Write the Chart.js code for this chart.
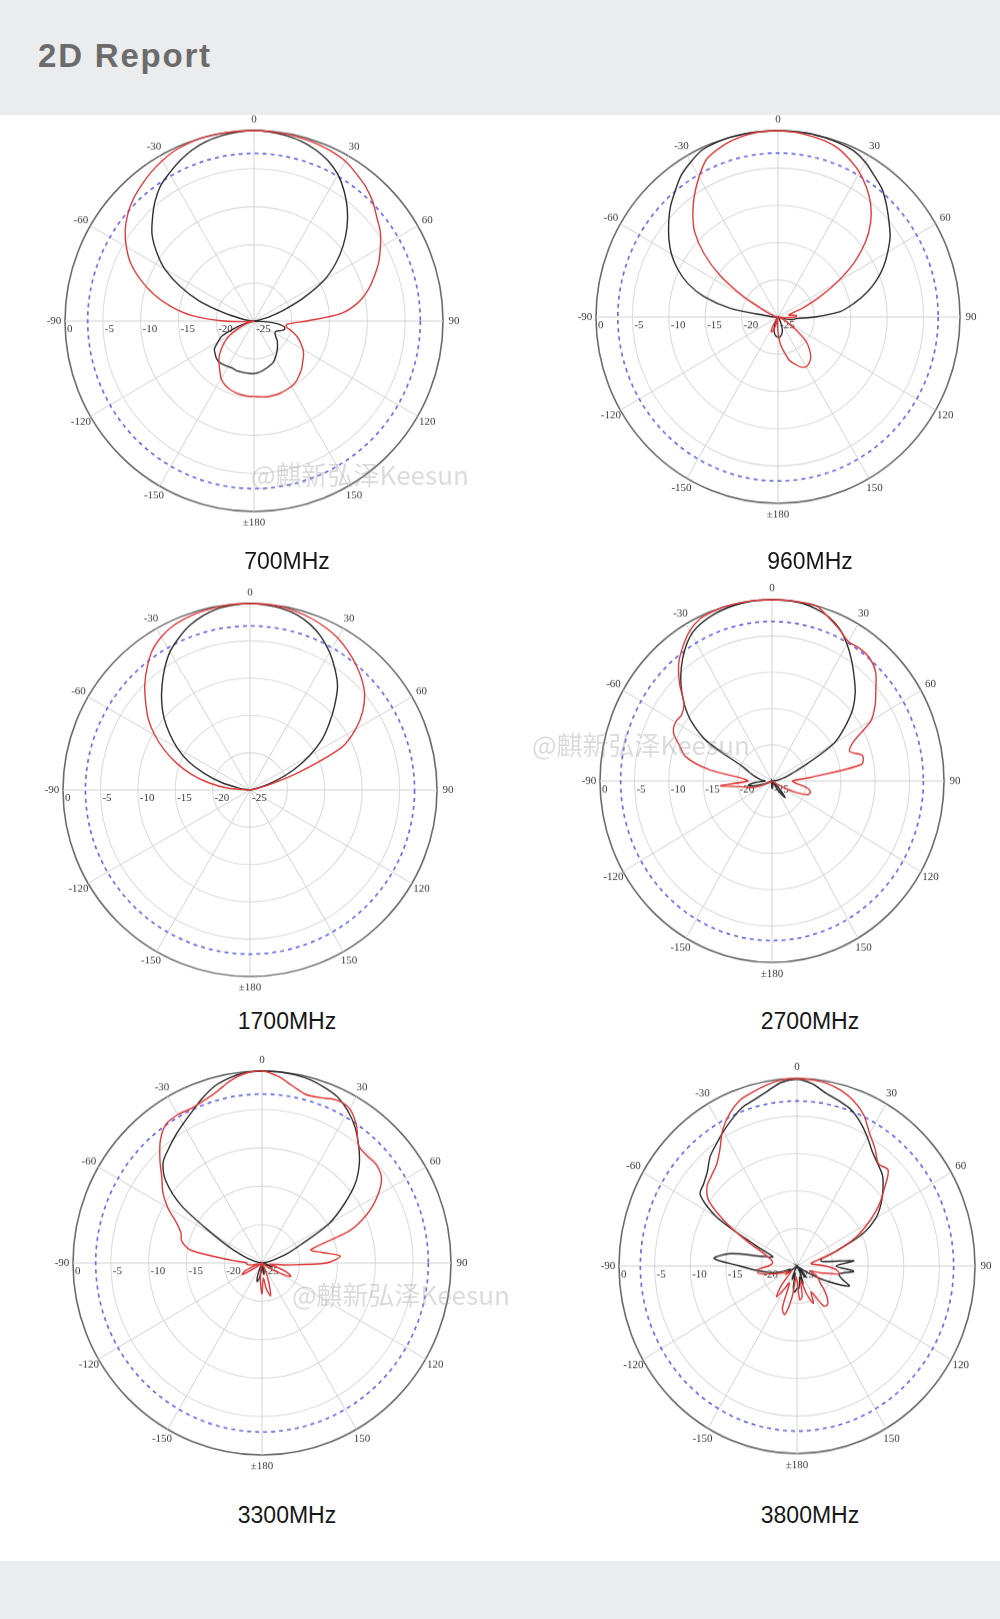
<!DOCTYPE html>
<html>
<head>
<meta charset="utf-8">
<script src="https://cdn.jsdelivr.net/npm/chart.js@4.4.1/dist/chart.umd.min.js"></script>
<style>
html,body{margin:0;padding:0;}
body{width:1000px;height:1619px;position:relative;background:#fff;overflow:hidden;font-family:"Liberation Sans",Arial,sans-serif;}
.band{position:absolute;left:0;width:1000px;background:#ebeced;}
#hdr{top:0;height:115px;}
#ftr{top:1561px;height:58px;}
#title{position:absolute;left:38px;top:39px;font-size:33px;line-height:33px;font-weight:bold;color:#6b6b6b;letter-spacing:1.8px;white-space:nowrap;}
.cap{position:absolute;width:300px;text-align:center;font-size:23px;line-height:23px;color:#161616;white-space:nowrap;}
.plot{position:absolute;transform-origin:50% 50%;}
.plot canvas{display:block;}
.wm{position:absolute;font-family:"Noto Sans CJK SC","Noto Sans",sans-serif;font-size:26px;line-height:26px;color:rgba(160,160,160,0.38);white-space:nowrap;z-index:5;}
</style>
</head>
<body>
<div class="band" id="hdr"></div>
<div id="title">2D Report</div>

<div class="plot"><canvas id="c700"></canvas></div>
<div class="plot"><canvas id="c960"></canvas></div>
<div class="plot"><canvas id="c1700"></canvas></div>
<div class="plot"><canvas id="c2700"></canvas></div>
<div class="plot"><canvas id="c3300"></canvas></div>
<div class="plot"><canvas id="c3800"></canvas></div>

<div class="cap" style="left:137px;top:550px;">700MHz</div>
<div class="cap" style="left:660px;top:550px;">960MHz</div>
<div class="cap" style="left:137px;top:1010px;">1700MHz</div>
<div class="cap" style="left:660px;top:1010px;">2700MHz</div>
<div class="cap" style="left:137px;top:1504px;">3300MHz</div>
<div class="cap" style="left:660px;top:1504px;">3800MHz</div>

<div class="wm" style="left:251px;top:461px;">@麒新弘泽Keesun</div>
<div class="wm" style="left:532px;top:731px;">@麒新弘泽Keesun</div>
<div class="wm" style="left:292px;top:1281px;">@麒新弘泽Keesun</div>

<div class="band" id="ftr"></div>

<script>
// ---- categories: azimuth in degrees, 5 degree steps, clockwise from top ----
const angles = Array.from({length: 72}, (_, i) => i * 5);

// ---- tick labels ----
const angleTickAngles = [0, 30, 60, 90, 120, 150, 180, 210, 240, 270, 300, 330];
const angleTickText = ['0', '30', '60', '90', '120', '150', '±180', '-150', '-120', '-90', '-60', '-30'];
const radialTicks = [0, -5, -10, -15, -20, -25];
const refLevel = -3;

// ---- series values (dB), index k = angle 5k (0..180, then -175..-5) ----
const black700 = [0,-0.1,-0.3,-0.6,-1.1,-1.8,-2.8,-4.2,-5.8,-7.6,-9.6,-11.8,-14.3,-17.7,-20.8,-23,-24.5,-25,-25,-22.5,-21,-20.8,-21.3,-21.8,-21.8,-21.5,-21,-20.6,-20.2,-19.8,-19.4,-19,-18.8,-18.6,-18.4,-18.2,-18.1,
  -18.1,-18.1,-18.1,-18.1,-18.2,-18.1,-18,-17.9,-18,-18.3,-18.6,-19.5,-20.3,-22.5,-24,-25,-25,-25,-24.5,-23.3,-20.9,-17.3,-14.2,-11.4,-9.3,-7.4,-6,-4.6,-3.4,-2.6,-1.8,-1.1,-0.6,-0.3,-0.1];
const red700 = [0,-0.05,-0.1,-0.2,-0.3,-0.5,-0.8,-1.4,-2,-2.8,-3.8,-4.6,-5.7,-6.8,-8.1,-9.4,-11,-13.4,-18,-20.5,-20.7,-19.8,-18.9,-18.2,-17.5,-17,-16.6,-16.1,-15.7,-15.3,-15.1,-15,-14.9,-14.9,-14.9,-15,-15.1,
  -15.1,-15.2,-15.3,-15.5,-15.8,-16.3,-17.1,-17.8,-18.5,-19.4,-20.3,-21.4,-22.7,-23.7,-24.5,-25,-24,-21,-16.8,-13.8,-11.2,-9,-7,-5.5,-4.2,-3.2,-2.4,-1.8,-1.2,-0.7,-0.3,-0.1,0,0,0];

const black960 = [0,0,0,-0.1,-0.2,-0.4,-1,-1.9,-2.7,-3.9,-5.1,-6.2,-7.6,-9,-10.6,-12.4,-14.4,-16.4,-20,-22.5,-23,-24,-25,-25,-25,-25,-25,-25,-25,-25,-24.5,-24,-23.3,-22.8,-22.5,-22.3,-22.3,
  -22.4,-22.6,-23,-23.5,-24,-24.5,-25,-25,-25,-25,-25,-25,-25,-25,-25,-25,-24.8,-24.5,-23.8,-18.4,-14.5,-11.8,-9.8,-8.1,-6.7,-5.4,-4.1,-3,-1.8,-1,-0.3,-0.1,0,0,0];
const red960 = [0,-0.1,-0.3,-0.5,-0.9,-1.7,-2.6,-3.8,-5.2,-7,-9.3,-12.2,-15.6,-18.8,-21.3,-23,-23.5,-22.5,-22.5,-24,-25,-25,-24.5,-24,-23.5,-22,-20,-18.9,-18,-17.5,-17.3,-17.6,-18.3,-19,-20.3,-21.4,-23,
  -24.5,-25,-24,-23,-22.8,-23.5,-24.5,-25,-25,-25,-25,-25,-25,-25,-25,-25,-25,-25,-25,-24.5,-24.5,-24,-22.9,-19.6,-15.3,-11.7,-8.8,-6.8,-5,-3.3,-1.7,-1,-0.5,-0.2,0];

const black1700 = [0,-0.1,-0.3,-0.7,-1.4,-2.4,-3.7,-5.2,-6.8,-9,-11.2,-13.3,-15.8,-18.5,-21.3,-23.7,-25,-25,-25,-25,-25,-25,-25,-25,-25,-25,-25,-25,-25,-25,-25,-25,-25,-25,-25,-25,-25,
  -25,-25,-25,-25,-25,-25,-25,-25,-25,-25,-25,-25,-25,-25,-25,-25,-25,-25,-25,-23.5,-21,-18.5,-15.9,-13.8,-11.9,-10,-8.3,-6.7,-5.1,-3.6,-2.5,-1.5,-0.8,-0.3,-0.1];
const red1700 = [0,0,-0.1,-0.3,-0.6,-1,-1.5,-2.2,-3,-3.9,-5,-6.6,-8.7,-11.5,-18,-22.5,-24.5,-25,-25,-25,-25,-25,-25,-25,-25,-25,-25,-25,-25,-25,-25,-25,-25,-25,-25,-25,-25,
  -25,-25,-25,-25,-25,-25,-25,-25,-25,-25,-25,-25,-25,-25,-25,-25,-25,-24.5,-22,-19.4,-16.9,-14.6,-12.4,-10.3,-8.4,-6.8,-5.1,-3.6,-2.2,-1.3,-0.7,-0.4,-0.2,-0.1,0];

const black2700 = [0,0,-0.1,-0.4,-0.9,-1.8,-3.2,-4.8,-6.4,-7.9,-9.7,-12.1,-14.6,-19.3,-21.8,-23,-24,-24.5,-25,-25,-25,-25,-25,-25,-25,-25,-24.5,-23.5,-22,-23.5,-25,-25,-25,-25,-24.5,-24,-24,
  -24.5,-25,-25,-25,-25,-25,-25,-25,-25,-25,-25,-25,-25,-24,-22.5,-21.5,-22.5,-24,-23.5,-23,-22.3,-21.5,-20.3,-14.2,-10.7,-8.3,-6.3,-4.5,-2.9,-1.6,-0.9,-0.5,-0.25,-0.1,0];
const red2700 = [0,0,0,0,-1,-1.9,-2.8,-2.7,-2.9,-3.7,-5.3,-6.7,-8.4,-11.8,-13,-11.4,-11.8,-19.5,-22,-21.5,-20,-19.2,-19.5,-21.5,-24,-25,-25,-25,-25,-25,-25,-25,-25,-25,-25,-25,-25,
  -25,-25,-25,-25,-25,-25,-25,-25,-25,-25,-25,-24.5,-24,-22.5,-21.5,-20.5,-17.5,-21.5,-20.6,-15.5,-12,-10.7,-9.2,-8.8,-9,-8.3,-6,-3.9,-2.4,-1.1,-0.3,-0.1,0,0,0];

const black3300 = [0,0,-0.1,-0.3,-0.7,-1.2,-2.2,-3.5,-5.1,-6.8,-8.9,-11.8,-14.8,-19.3,-21.5,-23.3,-24.3,-25,-25,-25,-25,-24.5,-23.5,-24.5,-25,-25,-25,-25,-25,-25,-25,-25,-25,-24,-23.5,-24.5,-25,
  -24,-23,-22.5,-23.5,-25,-25,-25,-25,-25,-25,-25,-25,-25,-25,-25,-25,-25,-25,-25,-24.5,-23.7,-22.5,-20.5,-17.5,-12,-8.4,-6.5,-5.7,-4.9,-4.1,-3.2,-2.1,-1.1,-0.5,-0.1];
const red3300 = [0,-0.6,-1.6,-2.3,-2.1,-1.6,-1.8,-3.2,-5.1,-5.3,-5.2,-5.7,-7.3,-9.5,-12.6,-18.3,-17,-14.6,-16.5,-22,-24,-23,-21.5,-20.8,-22.5,-24,-25,-25,-25,-25,-25,-24,-22.5,-20.6,-21.5,-23,-21,
  -22.5,-24,-25,-25,-25,-25,-25,-25,-25,-25,-24,-22,-22.5,-24,-24.5,-23.5,-23,-23,-21,-15.5,-14,-13.6,-12.5,-10.6,-9,-7.7,-5.9,-4.1,-2.9,-2.7,-2.8,-2.5,-1.9,-0.9,-0.2];

const black3800 = [-0.1,-0.6,-1.6,-2.2,-2.8,-3.9,-5.2,-6.5,-7.3,-8,-9.25,-10.6,-12.2,-14.8,-19,-21.5,-21.5,-17,-19.5,-17,-19,-18.5,-17.2,-20,-23,-25,-25,-24,-23,-24,-25,-24,-22.5,-23.5,-23,-22,-22,
  -21.5,-22,-24,-23,-24,-25,-25,-25,-25,-25,-24,-23.5,-24,-23,-21.5,-20.5,-19,-17,-13.3,-15.5,-20,-21.4,-18.8,-12,-8.4,-7.9,-7.2,-6,-5.2,-4.3,-3.4,-2.5,-2,-1.3,-0.4];
const red3800 = [0,-0.1,-0.3,-0.8,-1.6,-2.8,-4.6,-5.9,-7.2,-6.9,-9,-11,-13.4,-15.8,-19,-22,-23,-22.5,-21,-19.5,-19,-21.5,-23,-22,-21.5,-21,-20,-19,-18.3,-18.5,-21,-19.5,-21,-23,-20.8,-20.5,-23,
  -23.5,-20.5,-18.3,-19,-22.5,-21.5,-20,-21.5,-23.5,-24,-23,-23.5,-23,-22,-21,-19.5,-19.5,-21,-21.5,-21.5,-21,-20,-17.4,-13.6,-9.9,-8.5,-8,-7.4,-6.1,-4.1,-2.6,-1.5,-1,-0.5,-0.1];

// ---- placement of each plot on the page ----
const PAD = 30;
const plots = [
  {id: 'c700',  cx: 253.5, cy: 321,    rx: 188.5, ry: 190.5, red: red700,  black: black700},
  {id: 'c960',  cx: 778.3, cy: 317,    rx: 181.7, ry: 186.3, red: red960,  black: black960},
  {id: 'c1700', cx: 249.5, cy: 789.5,  rx: 187.2, ry: 186.5, red: red1700, black: black1700},
  {id: 'c2700', cx: 771.7, cy: 781.3,  rx: 171.7, ry: 181.3, red: red2700, black: black2700},
  {id: 'c3300', cx: 262,   cy: 1263,   rx: 188.7, ry: 192,   red: red3300, black: black3300},
  {id: 'c3800', cx: 797,   cy: 1265.7, rx: 178,   ry: 187.5, red: red3800, black: black3800}
];

const overlay = {
  id: 'overlay',
  beforeDatasetsDraw(chart) {
    const s = chart.scales.r, ctx = chart.ctx;
    ctx.save();
    // -3 dB reference ring
    ctx.strokeStyle = '#6d6de6';
    ctx.lineWidth = 1.7;
    ctx.setLineDash([4, 4]);
    ctx.beginPath();
    ctx.arc(s.xCenter, s.yCenter, s.getDistanceFromCenterForValue(refLevel), 0, Math.PI * 2);
    ctx.stroke();
    ctx.setLineDash([]);
    // angle labels
    ctx.fillStyle = '#3a3a3a';
    ctx.font = '11px "Liberation Serif", serif';
    ctx.textAlign = 'center';
    ctx.textBaseline = 'middle';
    angleTickAngles.forEach((a, i) => {
      const p = s.getPointPosition(angles.indexOf(a), s.drawingArea + 11);
      ctx.fillText(angleTickText[i], p.x, p.y);
    });
    // radial labels along the -90 axis
    ctx.textAlign = 'left';
    radialTicks.forEach(v => {
      const d = s.getDistanceFromCenterForValue(v);
      ctx.fillText(String(v), s.xCenter - d + 2, s.yCenter + 8);
    });
    ctx.restore();
  }
};

plots.forEach(P => {
  const R = Math.round(P.rx);
  const S = 2 * R + 2 * PAD;
  const cv = document.getElementById(P.id);
  cv.width = S; cv.height = S;
  cv.style.width = S + 'px'; cv.style.height = S + 'px';
  const wrap = cv.parentNode;
  wrap.style.width = S + 'px';
  wrap.style.height = S + 'px';
  wrap.style.left = Math.round(P.cx - S / 2) + 'px';
  wrap.style.top = Math.round(P.cy - S / 2) + 'px';
  wrap.style.transform = 'scaleY(' + (P.ry / R).toFixed(4) + ')';
  new Chart(cv, {
    type: 'radar',
    data: {
      labels: angles,
      datasets: [
        {data: P.red, borderColor: '#e03a3a', borderWidth: 1.4, pointRadius: 0, fill: false, tension: 0.3},
        {data: P.black, borderColor: '#2d2d2d', borderWidth: 1.4, pointRadius: 0, fill: false, tension: 0.3}
      ]
    },
    options: {
      responsive: false,
      animation: false,
      events: [],
      layout: {padding: PAD},
      plugins: {legend: {display: false}, tooltip: {enabled: false}},
      scales: {
        r: {
          min: -25, max: 0,
          ticks: {display: false, stepSize: 5},
          pointLabels: {display: false},
          grid: {
            circular: true,
            color: c => (c.tick && c.tick.value === 0) ? '#6a6a6a' : '#dcdcdc',
            lineWidth: c => (c.tick && c.tick.value === 0) ? 1.6 : 1.1
          },
          angleLines: {
            color: '#d2d2d2',
            lineWidth: c => (angles[c.index] % 30 === 0) ? 1 : 0
          }
        }
      }
    },
    plugins: [overlay]
  });
});
</script>
</body>
</html>
